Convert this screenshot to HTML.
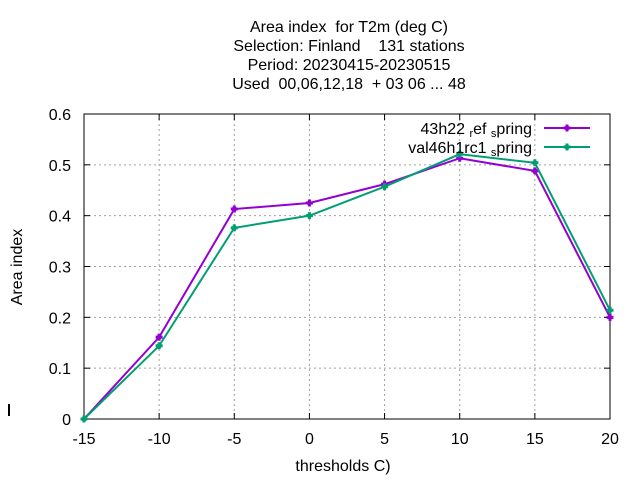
<!DOCTYPE html>
<html><head><meta charset="utf-8"><style>
body{margin:0;background:#fff;}
svg{display:block;font-family:"Liberation Sans",sans-serif;}
text{white-space:pre;}
</style></head><body>
<svg id="chart" width="640" height="480" viewBox="0 0 640 480" xmlns="http://www.w3.org/2000/svg" xml:space="preserve">
<rect width="640" height="480" fill="#fff"/>
<g font-size="16" text-anchor="middle" fill="#000">
<text x="349" y="32">Area index  for T2m (deg C)</text>
<text x="349" y="51">Selection: Finland    131 stations</text>
<text x="349" y="70">Period: 20230415-20230515</text>
<text x="349" y="89">Used  00,06,12,18  + 03 06 ... 48</text>
</g>
<g id="grid"></g>
<g id="axes"></g>
<text x="0" y="0" font-size="16" text-anchor="middle" transform="translate(22,267) rotate(-90)">Area index</text>
<text x="343" y="471" font-size="16" text-anchor="middle">thresholds C)</text>
<rect x="8" y="404" width="2" height="12" fill="#000"/>
<g id="series"></g>
<g id="legend"></g>
</svg>
<script>
const categories=[-15,-10,-5,0,5,10,15,20];
const seriesRef=[0,0.161,0.413,0.425,0.462,0.513,0.488,0.2];
const seriesVal=[0,0.144,0.376,0.4,0.457,0.521,0.504,0.214];
const yTicks=[0,0.1,0.2,0.3,0.4,0.5,0.6];
const yTickLabels=["0","0.1","0.2","0.3","0.4","0.5","0.6"];
const L=84,R=610,T=114,B=419;
const xs=v=>L+(v-(-15))/(35)*(R-L);
const ys=v=>B-(v/0.6)*(B-T);
const NS="http://www.w3.org/2000/svg";
function mk(tag,attrs,parent){const e=document.createElementNS(NS,tag);for(const k in attrs)e.setAttribute(k,attrs[k]);parent.appendChild(e);return e;}
const grid=document.getElementById('grid'),axes=document.getElementById('axes');
yTicks.forEach((t,i)=>{const y=ys(t);
 if(t>0&&t<0.6){const g=mk('line',{x1:L,x2:R,y1:y,y2:y,stroke:'#a0a0a0','stroke-dasharray':'2,3','stroke-width':1},grid);
 }
 mk('line',{x1:L,x2:L+6,y1:y,y2:y,stroke:'#000'},axes);mk('line',{x1:R,x2:R-6,y1:y,y2:y,stroke:'#000'},axes);
 const tx=mk('text',{x:L-13,y:y+6,'font-size':16,'text-anchor':'end'},axes);tx.textContent=yTickLabels[i];
 
});
categories.forEach(c=>{const x=xs(c);
 if(c>-15&&c<20){const g=mk('line',{x1:x,x2:x,y1:T,y2:B,stroke:'#a0a0a0','stroke-dasharray':'2,3','stroke-width':1},grid);
 }
 mk('line',{x1:x,x2:x,y1:B,y2:B-6,stroke:'#000'},axes);mk('line',{x1:x,x2:x,y1:T,y2:T+6,stroke:'#000'},axes);
 const tx=mk('text',{x:x,y:B+25,'font-size':16,'text-anchor':'middle'},axes);tx.textContent=String(c);
 
});
const box=mk('rect',{x:L,y:T,width:R-L,height:B-T,fill:'none',stroke:'#000'},axes);

const ser=document.getElementById('series');
function marker(x,y,color,parent){
 const m=mk('path',{d:`M${x-3.5},${y}L${x+3.5},${y}M${x},${y-3.5}L${x},${y+3.5}`,stroke:color,'stroke-width':3},parent);
 mk('circle',{cx:x,cy:y,r:2.5,fill:color},parent);return m;}
function drawSeries(vals,color,name){
 const g=mk('g',{},ser);
 const pts=vals.map((v,i)=>xs(categories[i])+','+ys(v)).join(' ');
 const pl=mk('polyline',{points:pts,fill:'none',stroke:color,'stroke-width':2},g);
 
 vals.forEach((v,i)=>{const m=marker(xs(categories[i]),ys(v),color,g);
  });
}
drawSeries(seriesRef,'#9400d3','series-43h22-ref');
drawSeries(seriesVal,'#009e73','series-val46h1rc1');
const leg=document.getElementById('legend');
const legItems=[['#9400d3',128],['#009e73',147]];
legItems.forEach((it,i)=>{
 const g=mk('g',{},leg);
 const t=mk('text',{x:532,y:it[1]+6,'font-size':16,'text-anchor':'end'},g);
 if(i===0){t.innerHTML='43h22 <tspan font-size="11" dy="3">r</tspan><tspan dy="-3">ef </tspan><tspan font-size="11" dy="3">s</tspan><tspan dy="-3">pring</tspan>';}
 else{t.innerHTML='val46h1rc1 <tspan font-size="11" dy="3">s</tspan><tspan dy="-3">pring</tspan>';}
 mk('line',{x1:544,x2:590,y1:it[1],y2:it[1],stroke:it[0],'stroke-width':2},g);
 marker(567,it[1],it[0],g);
});
</script>
</body></html>
